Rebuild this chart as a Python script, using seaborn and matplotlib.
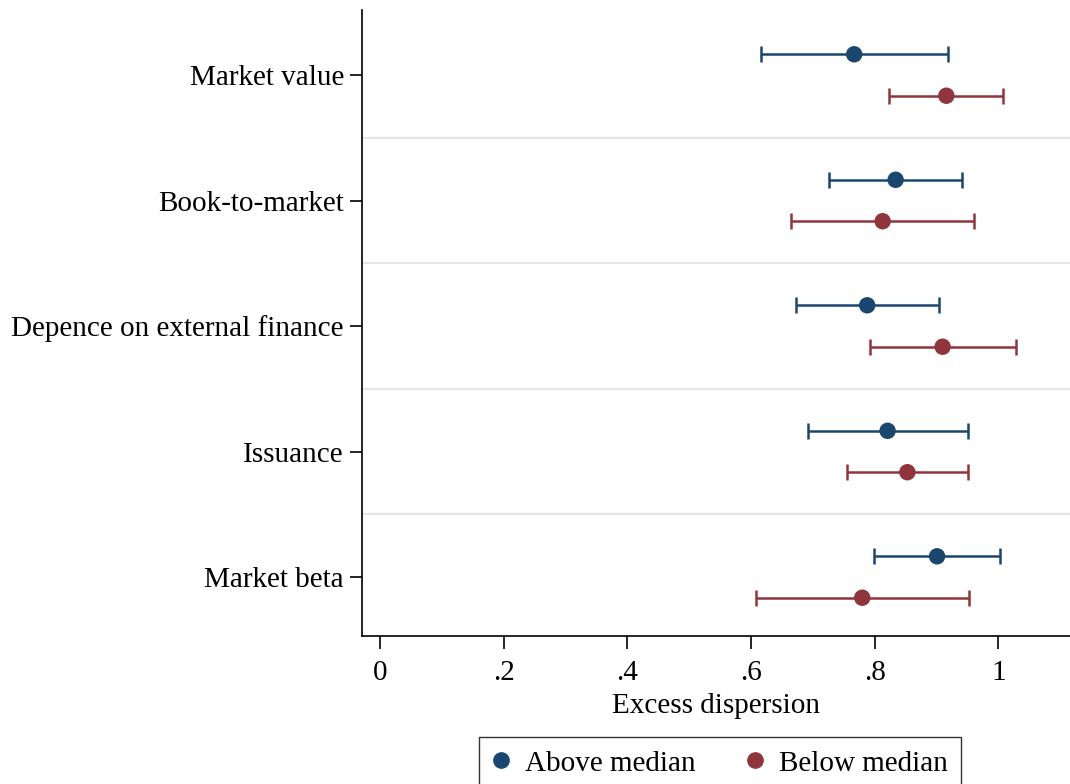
import numpy as np
import pandas as pd
import matplotlib
matplotlib.use("Agg")
import matplotlib.pyplot as plt
import seaborn as sns

# --- data ---
categories = ["Market value", "Book-to-market", "Depence on external finance",
              "Issuance", "Market beta"]
above_est = [0.767, 0.834, 0.788, 0.821, 0.901]
above_lo = [0.617, 0.727, 0.673, 0.692, 0.799]
above_hi = [0.918, 0.942, 0.904, 0.951, 1.002]
below_est = [0.916, 0.813, 0.910, 0.853, 0.780]
below_lo = [0.824, 0.664, 0.792, 0.755, 0.608]
below_hi = [1.007, 0.961, 1.028, 0.951, 0.953]
groups = ["Above median", "Below median"]
xticks = [0, 0.2, 0.4, 0.6, 0.8, 1.0]
xticklabels = ["0", ".2", ".4", ".6", ".8", "1"]

navy = "#1a476f"
maroon = "#90353b"
offset = 0.165
fs = 21

sns.set_theme(style="white")
plt.rcParams['font.family'] = ['Liberation Serif', 'DejaVu Serif']
plt.rcParams['text.color'] = 'black'
plt.rcParams['axes.labelcolor'] = 'black'

pos = np.arange(len(categories))
df = pd.DataFrame({
    "cat": categories * 2,
    "group": [groups[0]] * 5 + [groups[1]] * 5,
    "y": np.concatenate([pos - offset, pos + offset]),
    "est": above_est + below_est,
    "lo": above_lo + below_lo,
    "hi": above_hi + below_hi,
})

fig = plt.figure(figsize=(10.7, 7.84), dpi=100)
ax = fig.add_axes([362 / 1070, 1 - 636 / 784, 1 - 362 / 1070, (636 - 10) / 784])

# separator lines between categories
for b in pos[:-1] + 0.5:
    ax.axhline(b, color="#e6e6e6", lw=1.6, zorder=0)

# confidence intervals
for g, col in zip(groups, [navy, maroon]):
    d = df[df["group"] == g]
    ax.errorbar(d["est"], d["y"], xerr=[d["est"] - d["lo"], d["hi"] - d["est"]],
                fmt="none", ecolor=col, elinewidth=1.8, capsize=5.8, capthick=1.8,
                zorder=2)

sns.scatterplot(data=df, x="est", y="y", hue="group", palette=[navy, maroon],
                s=140, edgecolor="none", ax=ax, zorder=3, legend=False)

ax.set_xlim(-0.029, 1.116)
ax.set_ylim(4.47, -0.518)
ax.set_yticks(pos)
ax.set_yticklabels(categories, fontsize=fs)
ax.set_xticks(xticks)
ax.set_xticklabels(xticklabels, fontsize=fs)
ax.set_xlabel("Excess dispersion", fontsize=fs, labelpad=5, color="black")
ax.set_ylabel("")
ax.tick_params(axis="both", which="both", direction="out", length=9, width=1.2,
               color="black", labelcolor="black", left=True, bottom=True)
ax.tick_params(axis="y", pad=4)
ax.tick_params(axis="x", pad=8)

for side in ["top", "right"]:
    ax.spines[side].set_visible(False)
for side in ["left", "bottom"]:
    ax.spines[side].set_color("black")
    ax.spines[side].set_linewidth(1.2)

handles = [plt.Line2D([], [], marker="o", ls="", color=c, markersize=11)
           for c in [navy, maroon]]
leg = fig.legend(handles, groups, loc="upper center", ncol=2,
                 bbox_to_anchor=(720 / 1070, 1 - 737 / 784), fontsize=fs,
                 frameon=True, fancybox=False, handletextpad=0.52,
                 columnspacing=1.75, borderpad=0.45, handlelength=0.6,
                 borderaxespad=0)
leg.get_frame().set_edgecolor("black")
leg.get_frame().set_linewidth(1.0)

fig.savefig("out.png", dpi=100)
